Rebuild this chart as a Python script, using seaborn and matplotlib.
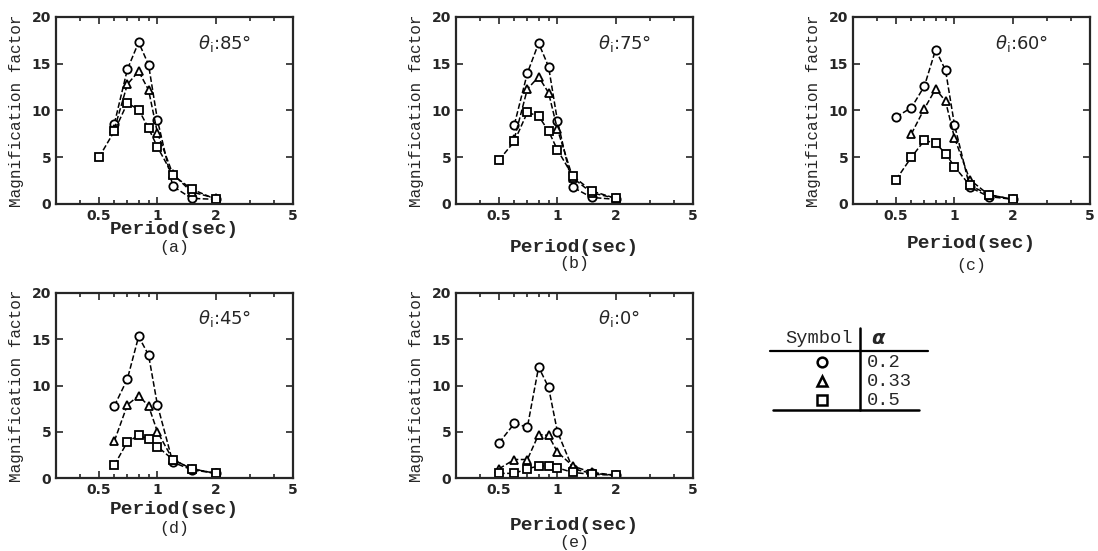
import numpy as np
import pandas as pd
import matplotlib
matplotlib.use("Agg")
import matplotlib.pyplot as plt
import matplotlib.ticker as mticker
import seaborn as sns

nan = np.nan

# Periode (s) na ose x
period = [0.5, 0.6, 0.7, 0.8, 0.9, 1.0, 1.2, 1.5, 2.0]

# hodnoty: kruh (alpha 0.2), trojuhelnik (0.33), ctverec (0.5)
a_circle = [nan, 8.6, 14.4, 17.3, 14.9, 9.0, 1.9, 0.6, 0.5]
a_tri = [nan, 8.0, 12.8, 14.2, 12.2, 7.6, 3.2, 1.3, 0.6]
a_sq = [5.0, 7.8, 10.8, 10.1, 8.1, 6.1, 3.1, 1.6, 0.5]

b_circle = [nan, 8.5, 14.0, 17.2, 14.7, 8.9, 1.8, 0.7, 0.5]
b_tri = [nan, 7.0, 12.3, 13.6, 11.9, 8.0, 2.8, 1.2, 0.6]
b_sq = [4.7, 6.7, 9.8, 9.4, 7.8, 5.8, 3.0, 1.4, 0.6]

c_circle = [9.3, 10.3, 12.6, 16.5, 14.3, 8.5, 1.8, 0.8, 0.5]
c_tri = [nan, 7.5, 10.2, 12.3, 11.0, 7.1, 2.6, 1.0, 0.5]
c_sq = [2.6, 5.0, 6.8, 6.5, 5.4, 4.0, 2.0, 1.0, 0.5]

d_circle = [nan, 7.8, 10.7, 15.3, 13.3, 7.9, 1.7, 0.9, 0.5]
d_tri = [nan, 4.0, 7.9, 8.9, 7.8, 5.0, 2.0, 1.0, 0.5]
d_sq = [nan, 1.4, 3.9, 4.6, 4.2, 3.4, 2.0, 1.0, 0.5]

e_circle = [3.8, 5.9, 5.5, 12.0, 9.8, 5.0, 1.0, 0.5, 0.3]
e_tri = [1.0, 2.0, 2.0, 4.7, 4.6, 2.8, 1.3, 0.6, 0.3]
e_sq = [0.5, 0.5, 1.0, 1.3, 1.3, 1.1, 0.6, 0.4, 0.3]

alphas = ["0.2", "0.33", "0.5"]
markers = ["o", "^", "s"]
panel_names = ["(a)", "(b)", "(c)", "(d)", "(e)"]
theta = ["85°", "75°", "60°", "45°", "0°"]
panel_data = [
    [a_circle, a_tri, a_sq],
    [b_circle, b_tri, b_sq],
    [c_circle, c_tri, c_sq],
    [d_circle, d_tri, d_sq],
    [e_circle, e_tri, e_sq],
]
xticks = [0.5, 1, 2, 5]
xtick_labels = ["0.5", "1", "2", "5"]
yticks = [0, 5, 10, 15, 20]

sns.set_style("ticks")
plt.rcParams["font.family"] = ["DejaVu Sans"]
mono = "Liberation Mono"

W, H = 1098, 551
fig = plt.figure(figsize=(W / 100, H / 100), dpi=100)

# rozmisteni os v pixelech: (levy okraj, horni, dolni)
boxes = [(56, 17, 204), (456, 17, 204), (853, 17, 204), (56, 293, 478), (456, 293, 478)]
box_w = 237
# odsazeni popisku osy x a pismena panelu pod osou (px)
label_off = [(26, 44), (44, 60), (40, 62), (32, 50), (48, 65)]

for k, (left, top, bottom) in enumerate(boxes):
    ax = fig.add_axes([left / W, 1 - bottom / H, box_w / W, (bottom - top) / H])
    df = pd.DataFrame({"period": period})
    for vals, m in zip(panel_data[k], markers):
        df["val"] = vals
        sns.lineplot(data=df.dropna(), x="period", y="val", ax=ax, color="black",
                     linestyle="--", dashes=(4, 3), linewidth=1.1, marker=m,
                     markersize=6, markerfacecolor="white", markeredgecolor="black",
                     markeredgewidth=1.3)
    ax.set_xscale("log")
    ax.set_xlim(0.3, 5)
    ax.set_ylim(0, 20)
    ax.set_xticks(xticks)
    ax.set_xticklabels(xtick_labels)
    ax.xaxis.set_minor_locator(mticker.LogLocator(base=10, subs=np.arange(2, 10)))
    ax.xaxis.set_minor_formatter(mticker.NullFormatter())
    ax.set_yticks(yticks)
    ax.tick_params(which="both", direction="in", top=True, right=True, width=1.2)
    ax.tick_params(which="major", length=5, labelsize=10)
    ax.tick_params(which="minor", length=3)
    for lab in ax.get_xticklabels() + ax.get_yticklabels():
        lab.set_fontweight("bold")
    for sp in ax.spines.values():
        sp.set_linewidth(1.6)
    ax.set_xlabel("")
    ax.set_ylabel("Magnification factor", fontfamily=mono, fontsize=11.5)
    ax.yaxis.set_label_coords(-0.135, 0.5)
    ax.annotate("Period(sec)", xy=(0.5, 0), xycoords="axes fraction",
                xytext=(0, -label_off[k][0] * 0.72), textcoords="offset points",
                ha="center", va="center", fontfamily=mono, fontsize=14, fontweight="bold")
    ax.annotate(panel_names[k], xy=(0.5, 0), xycoords="axes fraction",
                xytext=(0, -label_off[k][1] * 0.72), textcoords="offset points",
                ha="center", va="center", fontfamily=mono, fontsize=12)
    ax.text(0.6, 0.86, r"$\theta_{\mathrm{i}}$" + ":" + theta[k], transform=ax.transAxes,
            ha="left", va="center", fontsize=13)

# tabulka se symboly
lx0, lx1, ly0, ly1 = 770, 928, 325, 415
lax = fig.add_axes([lx0 / W, 1 - ly1 / H, (lx1 - lx0) / W, (ly1 - ly0) / H])
lax.set_xlim(0, 1)
lax.set_ylim(2.79, -1.95)
lax.axis("off")
lax.text(0.31, -1.26, "Symbol", ha="center", va="center", fontfamily=mono, fontsize=13.5)
lax.text(0.64, -1.26, r"$\boldsymbol{\alpha}$", ha="left", va="center", fontsize=14)
for i, (m, a) in enumerate(zip(markers, alphas)):
    lax.plot([0.33], [i], marker=m, markersize=7, mfc="white", mec="black", mew=1.8,
             linestyle="none", clip_on=False)
    lax.text(0.61, i, a, ha="left", va="center", fontfamily=mono, fontsize=13.5)
lax.plot([0, 1], [-0.58, -0.58], color="black", lw=1.6, clip_on=False)
lax.plot([0.02, 0.94], [2.53, 2.53], color="black", lw=1.8, clip_on=False)
lax.plot([0.57, 0.57], [-1.79, 2.53], color="black", lw=1.8, clip_on=False)

fig.savefig("out.png", dpi=100)
